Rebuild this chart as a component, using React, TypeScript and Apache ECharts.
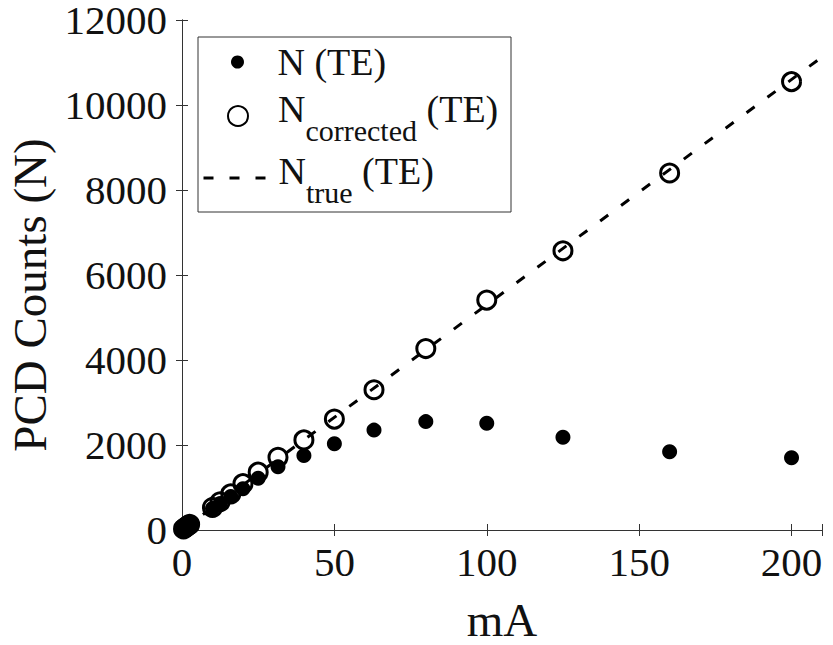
import React, { useEffect, useRef } from "react";
import * as echarts from "echarts";

// ---- data ----
const mA = [0.5, 1, 1.5, 2, 2.5, 10, 12.5, 16, 20, 25, 31.5, 40, 50, 63, 80, 100, 125, 160, 200];
const countsN = [25, 50, 76, 100, 124, 505, 625, 790, 970, 1220, 1490, 1750, 2030, 2350, 2550, 2510, 2180, 1840, 1700];
const countsCorrected = [26, 53, 80, 106, 132, 530, 665, 850, 1090, 1360, 1710, 2120, 2610, 3300, 4270, 5410, 6570, 8400, 10550];
const trueLineX = [0, 210];
const trueLineY = [0, 11130];

const xMin = 0;
const xMax = 210;
const xStep = 50;
const yMin = 0;
const yMax = 12000;
const yStep = 2000;

const nameN = "N (TE)";
const nameCorrected = "Ncorrected (TE)";
const nameTrue = "Ntrue (TE)";
const xTitle = "mA";
const yTitle = "PCD Counts (N)";

const FONT = "Liberation Serif, Times New Roman, serif";
const INK = "#111";
const AXIS = "#333";

function pairs(xs: number[], ys: number[]) {
  return xs.map((x, i) => [x, ys[i]]);
}

const richStyles = {
  m: { fontFamily: FONT, fontSize: 38, lineHeight: 40, color: INK, verticalAlign: "middle" },
  n: { fontFamily: FONT, fontSize: 38, lineHeight: 40, color: INK, verticalAlign: "middle", padding: [0, 0, 14, 0] },
  sub: { fontFamily: FONT, fontSize: 30, lineHeight: 30, color: INK, verticalAlign: "middle", padding: [28, 0, 0, 0] },
};

function legendLabel(name: string) {
  if (name === nameCorrected) return "{n|N}{sub|corrected}{n| (TE)}";
  if (name === nameTrue) return "{n|N}{sub|true}{n| (TE)}";
  return "{m|N (TE)}";
}

export default function App() {
  const ref = useRef<HTMLDivElement>(null);

  useEffect(() => {
    if (!ref.current) return;
    const chart = echarts.init(ref.current, undefined, { renderer: "svg" });

    const baseLegend = {
      orient: "vertical",
      padding: 0,
      itemWidth: 70,
      itemGap: 0,
      selectedMode: false,
      formatter: legendLabel,
      textStyle: { fontFamily: FONT, fontSize: 38, color: INK, rich: richStyles },
    };

    const axisCommon = {
      axisLine: { show: true, lineStyle: { color: AXIS, width: 1 } },
      axisTick: { show: true, inside: true, length: 6, lineStyle: { color: AXIS, width: 1 } },
      splitLine: { show: false },
    };

    chart.setOption({
      animation: false,
      backgroundColor: "#fff",
      textStyle: { fontFamily: FONT },
      grid: { left: 182, top: 20, width: 640, height: 510, containLabel: false, outerBoundsMode: "none" },
      xAxis: [
        {
          type: "value",
          min: xMin,
          max: xMax,
          interval: xStep,
          position: "bottom",
          ...axisCommon,
          axisLabel: {
            fontFamily: FONT,
            fontSize: 41,
            lineHeight: 40,
            color: INK,
            margin: 12,
            formatter: (v: number) => (v % xStep === 0 ? String(v) : ""),
          },
          name: xTitle,
          nameLocation: "middle",
          nameGap: 68,
          nameTextStyle: { fontFamily: FONT, fontSize: 47, lineHeight: 44, color: INK },
        },
        {
          type: "value",
          min: xMin,
          max: xMax,
          interval: xStep,
          position: "top",
          ...axisCommon,
          axisLabel: { show: false },
        },
      ],
      yAxis: [
        {
          type: "value",
          min: yMin,
          max: yMax,
          interval: yStep,
          position: "left",
          ...axisCommon,
          axisLabel: {
            fontFamily: FONT,
            fontSize: 41,
            lineHeight: 40,
            color: INK,
            margin: 15,
            formatter: (v: number) => String(v),
          },
          name: yTitle,
          nameLocation: "middle",
          nameGap: 127,
          nameTextStyle: { fontFamily: FONT, fontSize: 47, lineHeight: 46, color: INK, padding: [0, 40, 0, 0] },
        },
        {
          type: "value",
          min: yMin,
          max: yMax,
          interval: yStep,
          position: "right",
          ...axisCommon,
          axisLabel: { show: false },
        },
      ],
      legend: [
        { ...baseLegend, left: 231, top: 43, itemHeight: 13, data: [{ name: nameN, icon: "circle" }] },
        { ...baseLegend, left: 227, top: 87, itemHeight: 20, data: [{ name: nameCorrected, icon: "circle" }] },
        {
          ...baseLegend,
          left: 202,
          top: 149,
          itemHeight: 14,
          data: [
            {
              name: nameTrue,
              icon: "line",
              itemStyle: { color: "#000", borderColor: "#000", borderWidth: 3, borderType: [10, 16] },
            },
          ],
        },
      ],
      graphic: [
        {
          type: "rect",
          z: 3,
          shape: { x: 198, y: 37, width: 313, height: 175 },
          style: { fill: "#fff", stroke: AXIS, lineWidth: 1 },
        },
      ],
      series: [
        {
          name: nameN,
          type: "scatter",
          xAxisIndex: 0,
          yAxisIndex: 0,
          symbol: "circle",
          symbolSize: 15,
          itemStyle: { color: "#000", opacity: 1 },
          emphasis: { disabled: true },
          data: pairs(mA, countsN),
          z: 2,
        },
        {
          name: nameCorrected,
          type: "scatter",
          xAxisIndex: 0,
          yAxisIndex: 0,
          symbol: "circle",
          symbolSize: 18,
          itemStyle: { color: "transparent", borderColor: "#000", borderWidth: 3, opacity: 1 },
          emphasis: { disabled: true },
          data: pairs(mA, countsCorrected),
          z: 3,
        },
        {
          name: nameTrue,
          type: "line",
          xAxisIndex: 0,
          yAxisIndex: 0,
          symbol: "none",
          lineStyle: { color: "#000", width: 3, type: [10, 16] },
          itemStyle: { color: "#000" },
          emphasis: { disabled: true },
          data: pairs(trueLineX, trueLineY),
          z: 4,
        },
      ],
    });

    return () => chart.dispose();
  }, []);

  return (
    <div
      ref={ref}
      style={{ position: "fixed", left: 0, top: 0, width: 833, height: 645, background: "#fff" }}
    />
  );
}
